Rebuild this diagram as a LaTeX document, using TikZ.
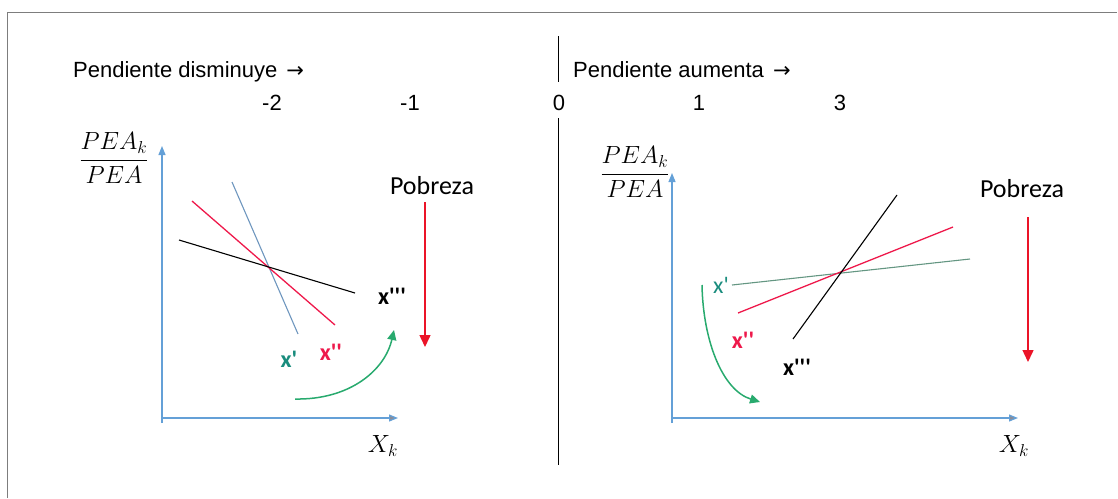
\documentclass[tikz,border=0pt]{standalone}
\usepackage{fontspec}
\setmainfont{Liberation Sans}
\newfontfamily\calib{Carlito}
\newfontfamily\dejavu{DejaVu Sans}
\usetikzlibrary{arrows.meta}
\definecolor{frameg}{RGB}{125,125,125}
\definecolor{axblue}{RGB}{100,160,215}
\definecolor{axgrey}{RGB}{140,140,150}
\definecolor{lnblue}{RGB}{110,150,190}
\definecolor{lnred}{RGB}{238,25,75}
\definecolor{lnteal}{RGB}{100,150,130}
\definecolor{lbteal}{RGB}{25,140,125}
\definecolor{arrgreen}{RGB}{40,170,110}
\definecolor{pobred}{RGB}{235,20,40}
\tikzset{
  axis/.style={draw=axblue, line width=1.2pt},
  axtip/.style={-{Triangle[width=7pt,length=9pt,fill=axgrey]}},
  ytip/.style={-{Triangle[width=7pt,length=9pt,fill=axblue]}},
  curve/.style={line width=1.3pt},
  txt/.style={inner sep=0pt, font=\fontsize{22}{26}\selectfont},
  mathlbl/.style={inner sep=0pt, font=\fontsize{25}{30}\selectfont},
  xlbl/.style={inner sep=0pt, font=\calib\bfseries\fontsize{24}{28}\selectfont},
  pob/.style={inner sep=0pt, font=\calib\fontsize{26}{30}\selectfont},
  greenarr/.style={draw=arrgreen, line width=1.5pt, -{Triangle[width=9pt,length=10pt]}},
  pobarr/.style={draw=pobred, line width=1.5pt, -{Triangle[width=11pt,length=12pt]}}
}
\begin{document}
\begin{tikzpicture}[x=1pt,y=-1pt]
\useasboundingbox (0,0) rectangle (1118,498);
% frame
\draw[frameg, line width=1.6pt] (7.5,498) -- (7.5,12.5) -- (1117,12.5);
% divider
\coordinate (d1) at (558,36); \coordinate (d2) at (558,82);
\coordinate (d3) at (558,118); \coordinate (d4) at (558,465);
\draw[line width=1pt] (d1) -- (d2);
\draw[line width=1pt] (d3) -- (d4);
% headings
\node[txt, anchor=base west] (hl) at (73,77) {Pendiente disminuye\hspace{9pt}{\dejavu\fontsize{21}{24}\selectfont\symbol{"2192}}};
\node[txt, anchor=base west] (hr) at (573,77) {Pendiente aumenta\hspace{9pt}{\dejavu\fontsize{21}{24}\selectfont\symbol{"2192}}};
\node[txt] (nm2) at (272,103) {-2};
\node[txt] (nm1) at (410,103) {-1};
\node[txt] (n0) at (559,103) {0};
\node[txt] (n1) at (699,103) {1};
\node[txt] (n3) at (840,103) {3};

% ---------- left panel ----------
\coordinate (lo) at (162,418);
\coordinate (ly) at (162,146);
\coordinate (lx) at (398,418);
\coordinate (lyb) at (162,423);
\draw[axis, ytip] (lyb) -- (ly);
\draw[axis, axtip] (lo) -- (lx);
\node[mathlbl] (lfrac) at (114,158) {$\displaystyle\frac{PEA_k}{PEA}$};
\node[mathlbl] (lxk) at (383,446) {$X_k$};
% lines
\coordinate (lb1) at (179,240); \coordinate (lb2) at (355,293);
\coordinate (lr1) at (192,201); \coordinate (lr2) at (335,325);
\coordinate (lu1) at (232,182); \coordinate (lu2) at (298,334);
\draw[lnblue, line width=1.1pt] (lu1) -- (lu2);
\draw[lnred, curve] (lr1) -- (lr2);
\draw[black, line width=1.1pt] (lb1) -- (lb2);
\node[xlbl, text=black] (lx3) at (392,296) {x'''};
\node[xlbl, text=lnred] (lx2) at (331,352) {x''};
\node[xlbl, text=lbteal] (lx1) at (289,359) {x'};
\coordinate (lg1) at (295,399); \coordinate (lg2) at (394,330);
\draw[greenarr] (lg1) .. controls (350,400) and (385,370) .. (lg2);
\node[pob] (lpob) at (432,186) {Pobreza};
\coordinate (lp1) at (425,202); \coordinate (lp2) at (425,347);
\draw[pobarr] (lp1) -- (lp2);

% ---------- right panel ----------
\coordinate (ro) at (672,418);
\coordinate (ry) at (672,173);
\coordinate (rx) at (1018,418);
\coordinate (ryb) at (672,423);
\draw[axis, ytip] (ryb) -- (ry);
\draw[axis, axtip] (ro) -- (rx);
\node[mathlbl] (rfrac) at (635,172) {$\displaystyle\frac{PEA_k}{PEA}$};
\node[mathlbl] (rxk) at (1014,446) {$X_k$};
\coordinate (rb1) at (897,195); \coordinate (rb2) at (793,339);
\coordinate (rr1) at (953,227); \coordinate (rr2) at (738,313);
\coordinate (rt1) at (970,259); \coordinate (rt2) at (732,285);
\draw[lnteal, line width=1.1pt] (rt2) -- (rt1);
\draw[lnred, curve] (rr2) -- (rr1);
\draw[black, line width=1.1pt] (rb2) -- (rb1);
\node[xlbl, text=lbteal, font=\calib\fontsize{24}{28}\selectfont] (rx1) at (721,285) {x'};
\node[xlbl, text=lnred] (rx2) at (743,340) {x''};
\node[xlbl, text=black] (rx3) at (797,367) {x'''};
\coordinate (rg1) at (702,285); \coordinate (rg2) at (760,402);
\draw[greenarr] (rg1) .. controls (703,340) and (722,390) .. (rg2);
\node[pob] (rpob) at (1022,189) {Pobreza};
\coordinate (rp1) at (1028,217); \coordinate (rp2) at (1028,362);
\draw[pobarr] (rp1) -- (rp2);
\end{tikzpicture}
\end{document}
